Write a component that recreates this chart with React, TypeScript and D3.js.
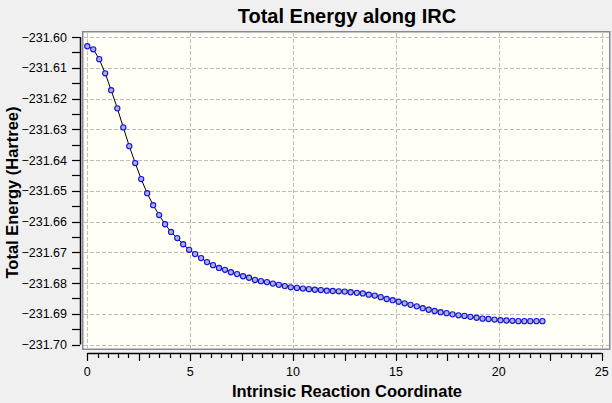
import React from "react";
import * as d3 from "d3";

const xValues: number[] = [
  0, 0.29, 0.58, 0.87, 1.16, 1.46, 1.75, 2.04, 2.33, 2.62, 2.91, 3.2, 3.49, 3.78, 4.07, 4.37,
  4.66, 4.95, 5.24, 5.53, 5.82, 6.11, 6.4, 6.69, 6.98, 7.28, 7.57, 7.86, 8.15, 8.44, 8.73,
  9.02, 9.31, 9.6, 9.89, 10.19, 10.48, 10.77, 11.06, 11.35, 11.64, 11.93, 12.22, 12.51,
  12.8, 13.1, 13.39, 13.68, 13.97, 14.26, 14.55, 14.84, 15.13, 15.42, 15.71, 16.01, 16.3,
  16.59, 16.88, 17.17, 17.46, 17.75, 18.04, 18.33, 18.62, 18.92, 19.21, 19.5, 19.79, 20.08,
  20.37, 20.66, 20.95, 21.24, 21.53, 21.83, 22.12,
];

const energyValues: number[] = [
  -231.603, -231.604, -231.6072, -231.6118, -231.6173, -231.6232, -231.6294, -231.6355,
  -231.641, -231.6462, -231.6508, -231.6547, -231.6579, -231.6609, -231.6634, -231.6654,
  -231.6674, -231.6692, -231.6706, -231.6719, -231.6732, -231.6742, -231.6751, -231.6757,
  -231.6765, -231.6771, -231.6778, -231.6783, -231.679, -231.6794, -231.6797, -231.6802,
  -231.6806, -231.681, -231.6814, -231.6816, -231.6818, -231.682, -231.6822, -231.6823,
  -231.6825, -231.6826, -231.6827, -231.6828, -231.683, -231.6832, -231.6834, -231.6838,
  -231.6841, -231.6846, -231.6852, -231.6856, -231.6861, -231.6866, -231.6871, -231.6876,
  -231.6882, -231.6887, -231.6891, -231.6895, -231.6898, -231.6902, -231.6905, -231.6907,
  -231.691, -231.6913, -231.6916, -231.6917, -231.6919, -231.6921, -231.6922, -231.6923,
  -231.6924, -231.6924, -231.6924, -231.6924, -231.6924,
];

const xTickLabels: number[] = [0, 5, 10, 15, 20, 25];
const yTickLabels: number[] = [-231.6, -231.61, -231.62, -231.63, -231.64, -231.65, -231.66, -231.67, -231.68, -231.69, -231.7];

const title = "Total Energy along IRC";
const xTitle = "Intrinsic Reaction Coordinate";
const yTitle = "Total Energy (Hartree)";

export default function App() {
  const W = 612, H = 403;
  const x = d3.scaleLinear().domain([0, 25]).range([87.3, 601.7]);
  const y = d3.scaleLinear().domain([-231.6, -231.7]).range([37, 344.5]);
  const font = "'Liberation Sans', Arial, sans-serif";

  const minorX = d3.range(0, 50.5, 1).map((i) => i * 0.5);
  const minorY = d3.range(0, 20.5, 1).map((i) => -231.6 - i * 0.005);

  const line = d3
    .line<number>()
    .x((_, i) => x(xValues[i]))
    .y((d) => y(d));

  return (
    <div style={{ position: "fixed", left: 0, top: 0, width: W, height: H }}>
      <svg width={W} height={H} style={{ display: "block" }} fontFamily={font}>
        <rect x={0} y={0} width={W} height={H} fill="#f0f0f0" />
        <rect x={82.75} y={31.75} width={527} height={317.5} fill="#fffff6" stroke="#878a94" strokeWidth={1.5} />
        {xTickLabels.map((t) => (
          <line key={"gx" + t} x1={Math.round(x(t)) + 0.5} x2={Math.round(x(t)) + 0.5} y1={33} y2={348} stroke="#bdbdbd" strokeDasharray="4,2" />
        ))}
        {yTickLabels.map((t) => (
          <line key={"gy" + t} x1={84} x2={609} y1={Math.round(y(t)) + 0.5} y2={Math.round(y(t)) + 0.5} stroke="#bdbdbd" strokeDasharray="4,2" />
        ))}
        <path d={line(energyValues) || ""} fill="none" stroke="#000" strokeWidth={1} />
        {energyValues.map((e, i) => (
          <circle key={"p" + i} cx={x(xValues[i])} cy={y(e)} r={2.6} fill="#b0b3c4" stroke="#1010ee" strokeWidth={1.1} />
        ))}
        {/* Y axis */}
        <line x1={80.5} x2={80.5} y1={y(-231.6)} y2={y(-231.7)} stroke="#000" strokeWidth={1.5} />
        {minorY.map((t, i) => (
          <line key={"ty" + i} x1={72} x2={80} y1={Math.round(y(t)) + 0.5} y2={Math.round(y(t)) + 0.5} stroke="#000" strokeWidth={1.2} />
        ))}
        {yTickLabels.map((t) => (
          <text key={"ly" + t} x={67} y={y(t) + 4.5} fontSize={12.5} textAnchor="end" fill="#000">
            {d3.format(".2f")(t)}
          </text>
        ))}
        {/* X axis */}
        <line x1={x(0)} x2={x(25)} y1={353.5} y2={353.5} stroke="#000" strokeWidth={1.5} />
        {minorX.map((t, i) => {
          const major = Math.abs(t / 2.5 - Math.round(t / 2.5)) < 1e-6;
          return (
            <line key={"tx" + i} x1={Math.round(x(t)) + 0.5} x2={Math.round(x(t)) + 0.5} y1={353} y2={major ? 361 : 358} stroke="#000" strokeWidth={1.2} />
          );
        })}
        {xTickLabels.map((t) => (
          <text key={"lx" + t} x={x(t)} y={376} fontSize={12.5} textAnchor="middle" fill="#000">
            {t}
          </text>
        ))}
        <text x={347} y={23} fontSize={20} fontWeight="bold" textAnchor="middle" fill="#000">
          {title}
        </text>
        <text x={347} y={397} fontSize={16.5} fontWeight="bold" textAnchor="middle" fill="#000">
          {xTitle}
        </text>
        <text transform="translate(18,192.5) rotate(-90)" fontSize={16.5} fontWeight="bold" textAnchor="middle" fill="#000">
          {yTitle}
        </text>
      </svg>
    </div>
  );
}
